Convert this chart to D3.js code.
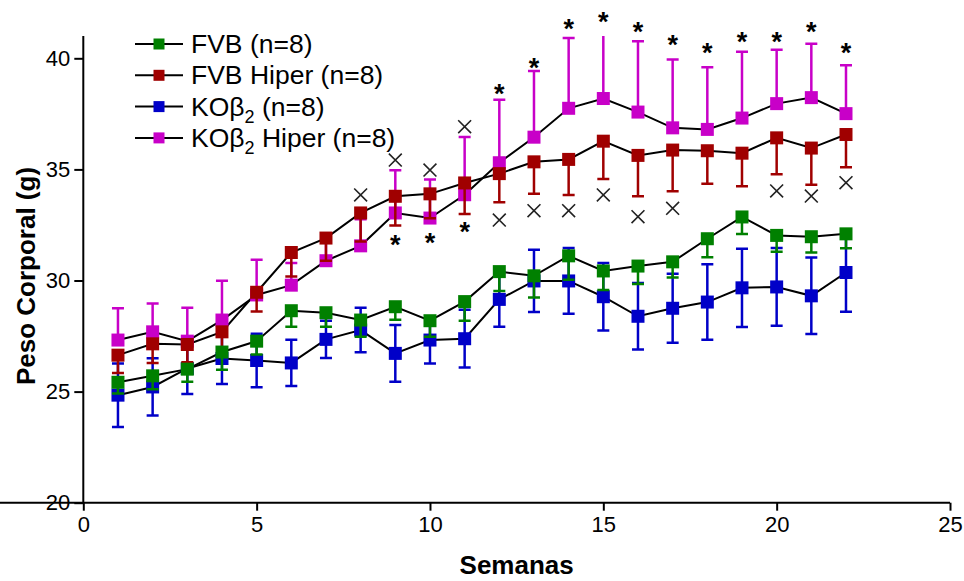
<!DOCTYPE html>
<html>
<head>
<meta charset="utf-8">
<script src="https://cdn.jsdelivr.net/npm/d3@7"></script>
<style>
    body { margin: 0; background: #fff; }
    svg { display: block; font-family: "Liberation Sans", Arial, sans-serif; }
</style>
</head>
<body>
<div id="chart"></div>
<script>

// weeks 1..22
var weeks = [1, 2, 3, 4, 5, 6, 7, 8, 9, 10, 11, 12, 13, 14, 15, 16, 17, 18, 19, 20, 21, 22];

var fvb = [25.42, 25.71, 26.01, 26.78, 27.27, 28.64, 28.55, 28.22, 28.82, 28.19, 29.05,
    30.40, 30.21, 31.11, 30.43, 30.65, 30.84, 31.88, 32.86, 32.03, 31.97, 32.10];
var fvbErr = [0.5, 0.6, 0.57, 0.8, 0.6, 0.72, 0.63, 0.75, 0.59, 0.72, 0.86,
    0.87, 0.98, 1.08, 0.86, 0.81, 0.71, 0.83, 0.77, 0.74, 0.71, 0.65];

var fvbHiper = [26.64, 27.15, 27.12, 27.69, 29.47, 31.26, 31.91, 33.04, 33.79, 33.90, 34.39,
    34.81, 35.34, 35.45, 36.27, 35.63, 35.87, 35.84, 35.73, 36.42, 35.96, 36.57];
var fvbHiperErr = [0.8, 0.86, 0.8, 0.7, 0.87, 1.08, 1.02, 1.28, 1.31, 1.1, 1.4,
    1.29, 1.44, 1.6, 1.7, 1.84, 1.85, 1.49, 1.49, 1.64, 1.65, 1.47];

var ko = [24.84, 25.21, 26.04, 26.49, 26.40, 26.29, 27.35, 27.77, 26.72, 27.32, 27.38,
    29.15, 29.98, 29.98, 29.27, 28.39, 28.75, 29.03, 29.67, 29.71, 29.31, 30.36];
var koErr = [1.43, 1.29, 1.15, 1.15, 1.2, 1.04, 0.84, 1.0, 1.28, 1.05, 1.3,
    1.23, 1.4, 1.48, 1.52, 1.5, 1.55, 1.7, 1.76, 1.75, 1.72, 1.77];

var koHiper = [27.32, 27.69, 27.27, 28.22, 29.35, 29.79, 30.89, 31.56, 33.04, 32.81, 33.86,
    35.30, 36.45, 37.75, 38.19, 37.58, 36.87, 36.80, 37.31, 37.96, 38.23, 37.51];
var koHiperErr = [1.43, 1.28, 1.5, 1.77, 1.58, 1.0, 1.0, 1.2, 1.92, 1.74, 2.6,
    2.83, 2.98, 3.16, 3.3, 3.19, 3.08, 2.8, 2.98, 2.42, 2.42, 2.18];

// significance marks
var starWeeks = [9, 10, 11, 12, 13, 14, 15, 16, 17, 18, 19, 20, 21, 22];
var starY = [31.85, 31.94, 32.45, 38.65, 39.85, 41.58, 41.90, 41.45, 40.86, 40.52, 41.02, 41.02, 41.47, 40.52];
var crossWeeks = [8, 9, 10, 11, 12, 13, 14, 15, 16, 17, 20, 21, 22];
var crossY = [33.85, 35.42, 34.97, 36.92, 32.72, 33.14, 33.14, 33.85, 32.87, 33.25, 34.03, 33.80, 34.40];

var xTicks = [0, 5, 10, 15, 20, 25];
var yTicks = [20, 25, 30, 35, 40];

var series = [
    { name: 'KOβ2', sub: true, rest: ' (n=8)', values: ko, err: koErr, dir: 'both', color: '#0000c8' },
    { name: 'KOβ2 Hiper', sub: true, rest: ' Hiper (n=8)', values: koHiper, err: koHiperErr, dir: 'up', color: '#c800c8' },
    { name: 'FVB Hiper', sub: false, rest: 'FVB Hiper (n=8)', values: fvbHiper, err: fvbHiperErr, dir: 'down', color: '#a00000' },
    { name: 'FVB', sub: false, rest: 'FVB (n=8)', values: fvb, err: fvbErr, dir: 'down', color: '#008000' }
];
var legendOrder = [3, 2, 0, 1];

var width = 964,
    height = 581;

var x = d3.scaleLinear().domain([0, 25]).range([83.3, 950]);
var y = d3.scaleLinear().domain([20, 40]).range([502.7, 58.3]);
var yTop = 41;

var svg = d3.select('#chart').append('svg')
    .attr('width', width)
    .attr('height', height);

svg.append('defs').append('clipPath')
    .attr('id', 'plotClip')
    .append('rect')
    .attr('x', x(0))
    .attr('y', y(yTop))
    .attr('width', x(25) - x(0))
    .attr('height', y(20) - y(yTop));

// axes
var xAxis = svg.append('g')
    .attr('transform', 'translate(0,' + y(20) + ')')
    .call(d3.axisBottom(x).tickValues(xTicks).tickSize(8).tickPadding(6));

var yAxis = svg.append('g')
    .attr('transform', 'translate(' + x(0) + ',0)')
    .call(d3.axisLeft(y).tickValues(yTicks).tickSize(9).tickPadding(4));

// extend y axis line up to yTop
yAxis.select('.domain').attr('d', 'M0,' + y(20) + 'V' + y(yTop));
xAxis.select('.domain').attr('d', 'M0,0H' + x(25));

[xAxis, yAxis].forEach(function(g) {
    g.selectAll('.domain').attr('stroke', '#000').attr('stroke-width', 2);
    g.selectAll('.tick line').attr('stroke', '#000').attr('stroke-width', 2);
    g.selectAll('.tick text')
        .attr('fill', '#000')
        .style('font-size', '22px')
        .style('font-family', '"Liberation Sans", Arial, sans-serif');
});

svg.append('text')
    .attr('x', (x(0) + x(25)) / 2)
    .attr('y', 574)
    .attr('text-anchor', 'middle')
    .style('font-size', '26px')
    .style('font-weight', 'bold')
    .text('Semanas');

svg.append('text')
    .attr('transform', 'translate(35,276) rotate(-90)')
    .attr('text-anchor', 'middle')
    .style('font-size', '26px')
    .style('font-weight', 'bold')
    .text('Peso Corporal (g)');

var plot = svg.append('g').attr('clip-path', 'url(#plotClip)');

var line = d3.line()
    .x(function(d, i) { return x(weeks[i]); })
    .y(function(d) { return y(d); });

// connecting lines
series.forEach(function(s) {
    plot.append('path')
        .datum(s.values)
        .attr('fill', 'none')
        .attr('stroke', '#000')
        .attr('stroke-width', 2)
        .attr('d', line);
});

// error bars + markers, one series at a time
var cap = 6,
    mk = 13;

series.forEach(function(s) {
    var g = plot.append('g');
    var bars = s.values.map(function(v, i) {
        var lo = s.dir === 'up' ? v : v - s.err[i];
        var hi = s.dir === 'down' ? v : v + s.err[i];
        return { w: weeks[i], v: v, lo: lo, hi: hi };
    });

    g.selectAll('line.bar').data(bars).enter().append('line')
        .attr('x1', function(d) { return x(d.w); })
        .attr('x2', function(d) { return x(d.w); })
        .attr('y1', function(d) { return y(d.lo); })
        .attr('y2', function(d) { return y(d.hi); })
        .attr('stroke', s.color)
        .attr('stroke-width', 2.5);

    var caps = [];
    bars.forEach(function(d) {
        if (s.dir !== 'up') caps.push({ w: d.w, v: d.lo });
        if (s.dir !== 'down') caps.push({ w: d.w, v: d.hi });
    });
    g.selectAll('line.cap').data(caps).enter().append('line')
        .attr('x1', function(d) { return x(d.w) - cap; })
        .attr('x2', function(d) { return x(d.w) + cap; })
        .attr('y1', function(d) { return y(d.v); })
        .attr('y2', function(d) { return y(d.v); })
        .attr('stroke', s.color)
        .attr('stroke-width', 2.5);

    g.selectAll('rect').data(bars).enter().append('rect')
        .attr('x', function(d) { return x(d.w) - mk / 2; })
        .attr('y', function(d) { return y(d.v) - mk / 2; })
        .attr('width', mk)
        .attr('height', mk)
        .attr('fill', s.color);
});

// stars
svg.selectAll('text.star').data(starWeeks).enter().append('text')
    .attr('class', 'star')
    .attr('x', function(d) { return x(d); })
    .attr('y', function(d, i) { return y(starY[i]) + 15; })
    .attr('text-anchor', 'middle')
    .style('font-size', '27px')
    .style('font-weight', 'bold')
    .text('*');

// crosses
var cross = d3.symbol().type(d3.symbolTimes).size(110);
svg.selectAll('path.cross').data(crossWeeks).enter().append('path')
    .attr('class', 'cross')
    .attr('transform', function(d, i) { return 'translate(' + x(d) + ',' + y(crossY[i]) + ')'; })
    .attr('d', cross)
    .attr('fill', 'none')
    .attr('stroke', '#222')
    .attr('stroke-width', 1.6);

// legend
var legend = svg.append('g');
legendOrder.forEach(function(k, row) {
    var s = series[k];
    var ly = 44 + row * 31.3;
    legend.append('line')
        .attr('x1', 135).attr('x2', 183)
        .attr('y1', ly).attr('y2', ly)
        .attr('stroke', '#000')
        .attr('stroke-width', 2);
    legend.append('rect')
        .attr('x', 159 - 5.5).attr('y', ly - 5.5)
        .attr('width', 11).attr('height', 11)
        .attr('fill', s.color);
    var t = legend.append('text')
        .attr('x', 191)
        .attr('y', ly + 9)
        .style('font-size', '26.5px');
    if (s.sub) {
        t.append('tspan').text('KOβ');
        t.append('tspan').attr('dy', 7).style('font-size', '18px').text('2');
        t.append('tspan').attr('dy', -7).text(s.rest);
    } else {
        t.text(s.rest);
    }
});

</script>
</body>
</html>
